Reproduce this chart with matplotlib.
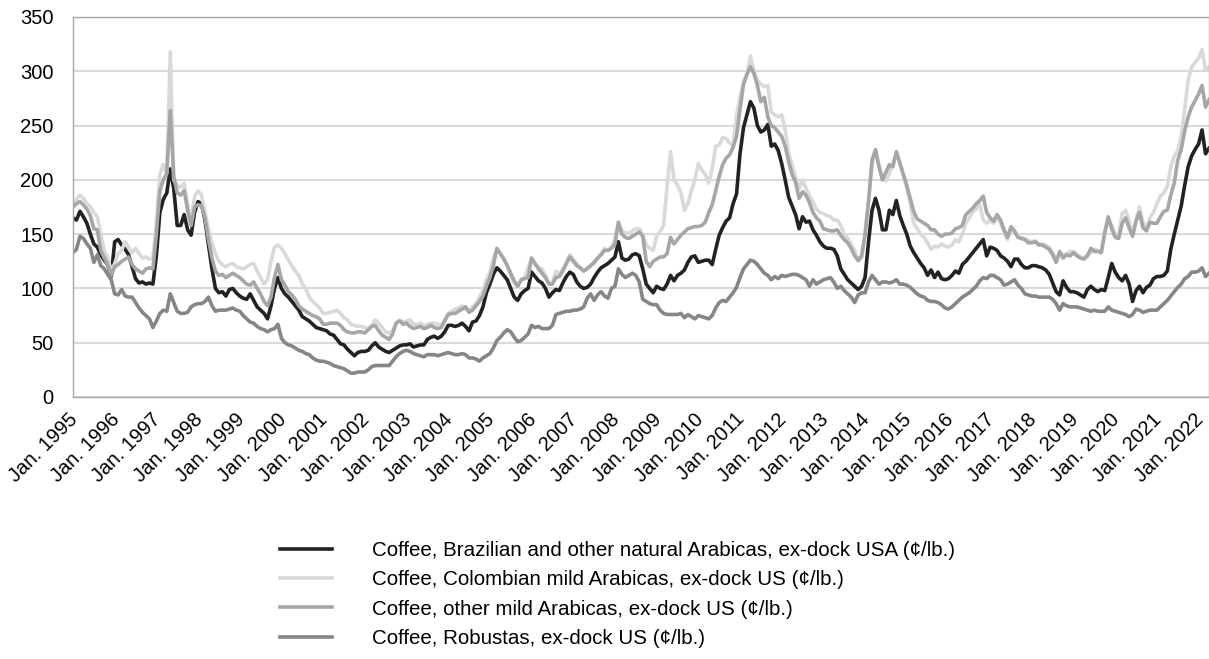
import matplotlib
matplotlib.use('Agg')
import matplotlib.pyplot as plt
import matplotlib.transforms as mtransforms
import numpy as np

plt.rcParams['font.family'] = ['Liberation Sans', 'DejaVu Sans']

years = list(range(1995, 2023))
tick_labels = [f"Jan. {y}" for y in years]

series_names = [
    "Coffee, Brazilian and other natural Arabicas, ex-dock USA (¢/lb.)",
    "Coffee, Colombian mild Arabicas, ex-dock US (¢/lb.)",
    "Coffee, other mild Arabicas, ex-dock US (¢/lb.)",
    "Coffee, Robustas, ex-dock US (¢/lb.)",
]

# Monthly values, Jan 1995 - Apr 2022
brazilian = [
    165, 163, 171, 166, 160, 150, 141, 138, 131, 126, 122, 111,
    143, 145, 140, 136, 131, 120, 109, 105, 106, 104, 105, 104,
    130, 170, 182, 188, 210, 192, 158, 158, 168, 154, 149, 170,
    180, 178, 163, 140, 118, 100, 96, 97, 93, 99, 100, 96,
    93, 91, 90, 95, 89, 83, 80, 77, 72, 84, 100, 110,
    100, 95, 92, 88, 84, 80, 74, 72, 70, 67, 64, 63,
    62, 61, 58, 57, 53, 49, 48, 44, 41, 38, 41, 42,
    42, 43, 47, 50, 46, 44, 42, 41, 43, 45, 47, 48,
    48, 49, 46, 47, 48, 48, 53, 55, 56, 54, 56, 60,
    66, 66, 65, 66, 68, 65, 61, 69, 70, 75, 83, 96,
    104, 113, 119, 116, 112, 108, 100, 92, 89, 95, 98, 100,
    115, 111, 107, 105, 100, 92, 96, 99, 98, 105, 111, 115,
    113, 106, 102, 100, 101, 104, 110, 115, 119, 121, 123, 126,
    129, 143, 128, 126, 127, 131, 132, 130, 118, 104, 100, 96,
    102, 100, 99, 104, 112, 107, 112, 114, 117, 124, 129, 130,
    124, 125, 126, 126, 122, 136, 149, 156, 162, 165, 178, 187,
    224, 248, 260, 272, 266, 250, 244, 246, 251, 231, 233, 227,
    215, 200, 184, 176, 168, 155, 166, 161, 162, 154, 149, 143,
    139, 137, 137, 136, 130, 118, 113, 108, 105, 102, 99, 102,
    110, 143, 172, 183, 172, 154, 154, 172, 168, 181, 167, 158,
    150, 139, 133, 128, 123, 119, 112, 117, 110, 115, 109, 108,
    109, 112, 116, 114, 122, 125, 129, 133, 137, 141, 145, 130,
    138, 137, 135, 130, 128, 125, 120, 127, 127, 122, 119, 119,
    121, 121, 120, 119, 117, 113, 105, 97, 94, 107, 101, 97,
    97, 96, 94, 92, 99, 102, 99, 97, 99, 98, 110, 123,
    115, 110, 107, 112, 104, 88, 98, 102, 96, 101, 103, 109,
    111, 111, 112, 116, 136, 150, 163, 176, 195, 212, 222, 228,
    233, 246, 224, 229,
]

colombian = [
    178, 182, 186, 183, 178, 175, 170, 166, 150, 135, 128, 116,
    123, 132, 135, 143, 138, 133, 137, 132, 128, 129, 127, 128,
    160, 205, 214, 206, 318, 200, 195, 193, 197, 178, 163, 185,
    190, 186, 170, 155, 142, 132, 125, 122, 120, 122, 123, 120,
    119, 118, 120, 122, 123, 116, 110, 104, 108, 125, 138, 140,
    137, 132, 126, 121, 116, 112, 104, 100, 92, 88, 85, 82,
    77, 77, 78, 79, 80, 77, 73, 71, 67, 66, 65, 65,
    64, 63, 66, 71, 68, 64, 60, 59, 61, 68, 71, 69,
    70, 71, 67, 67, 68, 66, 67, 68, 68, 67, 66, 71,
    77, 79, 81, 82, 84, 82, 78, 83, 86, 92, 98, 108,
    115, 128, 135, 132, 128, 121, 112, 105, 102, 108, 110, 119,
    128, 122, 120, 118, 112, 105, 105, 116, 113, 118, 123, 131,
    127, 123, 119, 116, 119, 121, 123, 127, 132, 137, 135, 138,
    145, 160, 153, 151, 151, 153, 155, 155, 150, 140, 137, 135,
    148, 152, 158, 194, 226, 200, 195, 188, 172, 178, 190, 200,
    215, 209, 205, 197, 210, 231, 232, 239, 238, 234, 231, 260,
    276, 290, 298, 314, 300, 292, 288, 286, 287, 262, 260, 258,
    260, 246, 225, 214, 203, 192, 200, 192, 185, 180, 173, 170,
    169, 167, 166, 163, 163, 158, 150, 146, 141, 135, 125, 128,
    150, 180, 215, 226, 214, 201, 199, 206, 215, 224, 215, 205,
    192, 178, 160, 155, 150, 147, 142, 136, 139, 138, 141, 139,
    138, 140, 145, 143, 150, 160, 165, 171, 173, 178, 163, 160,
    163, 160, 165, 160, 152, 145, 155, 152, 148, 147, 146, 144,
    143, 144, 141, 141, 140, 138, 133, 126, 133, 131, 132, 134,
    134, 131, 129, 128, 131, 133, 136, 135, 134, 150, 163, 158,
    150, 148, 169, 172, 162, 150, 163, 175, 161, 156, 165, 170,
    178, 185, 188, 194, 212, 222, 227, 240, 265, 292, 304, 308,
    312, 320, 301, 304,
]

other_milds = [
    175, 178, 180, 177, 173, 167, 155, 154, 135, 128, 122, 112,
    120, 122, 125, 127, 129, 122, 118, 116, 114, 118, 119, 118,
    150, 190, 200, 206, 264, 203, 188, 186, 190, 172, 158, 175,
    177, 176, 165, 145, 128, 116, 112, 113, 110, 112, 114, 112,
    110, 107, 104, 103, 106, 100, 95, 88, 84, 92, 110, 122,
    108, 103, 97, 94, 90, 84, 81, 79, 77, 75, 74, 72,
    67, 67, 68, 68, 68, 66, 62, 60, 59, 59, 60, 60,
    59, 62, 65, 66, 61, 57, 55, 53, 58, 68, 70, 67,
    68, 65, 63, 64, 65, 63, 64, 66, 64, 63, 64, 70,
    76, 77, 77, 79, 81, 83, 78, 80, 84, 88, 93, 102,
    110, 121, 137, 132, 127, 121, 114, 107, 102, 108, 109, 110,
    128, 123, 118, 114, 110, 104, 104, 110, 111, 116, 123, 129,
    125, 121, 119, 116, 118, 121, 124, 128, 131, 135, 135, 137,
    141, 161, 150, 147, 146, 148, 150, 152, 148, 125, 120, 125,
    127, 129, 129, 132, 147, 141, 145, 149, 152, 155, 156, 157,
    157, 158, 161, 170, 177, 190, 203, 214, 220, 223, 230, 240,
    265, 288, 297, 304, 298, 287, 272, 276, 258, 250, 248, 244,
    240, 231, 217, 205, 198, 183, 189, 186, 179, 170, 165, 162,
    155, 154, 153, 153, 154, 149, 145, 142, 137, 130, 126, 130,
    150, 180, 218, 228, 212, 200, 207, 214, 212, 226, 216, 205,
    195, 183, 171, 164, 162, 160, 158, 154, 154, 150, 148, 150,
    150, 151, 155, 156, 158, 168, 171, 174, 178, 181, 185, 170,
    165, 162, 168, 163, 154, 147, 157, 153, 147, 146, 145, 142,
    142, 143, 140, 140, 138, 136, 131, 124, 134, 128, 131, 130,
    133, 130, 128, 127, 130, 137, 134, 134, 133, 152, 166, 155,
    147, 146, 160, 165, 156, 148, 162, 170, 156, 153, 161, 160,
    160, 166, 171, 172, 186, 197, 218, 228, 245, 258, 267, 273,
    279, 287, 267, 274,
]

robustas = [
    133, 136, 148, 146, 141, 137, 124, 131, 121, 118, 113, 108,
    95, 94, 99, 93, 92, 92, 87, 82, 78, 75, 72, 64,
    70, 77, 80, 79, 95, 87, 79, 77, 77, 78, 83, 85,
    86, 86, 88, 92, 84, 79, 80, 80, 80, 81, 82, 80,
    79, 75, 72, 69, 68, 65, 63, 62, 60, 62, 63, 67,
    54, 50, 48, 47, 45, 43, 42, 40, 39, 36, 34, 33,
    33, 32, 31, 29, 28, 27, 26, 24, 22, 22, 23, 23,
    23, 25, 28, 29, 29, 29, 29, 29, 33, 37, 40, 42,
    43, 42, 40, 39, 38, 37, 39, 39, 39, 38, 39, 40,
    41, 40, 39, 39, 40, 39, 36, 36, 35, 33, 36, 38,
    40, 45, 52, 55, 59, 62, 60, 55, 51, 52, 55, 58,
    66, 64, 65, 63, 63, 63, 66, 76, 77, 78, 79, 79,
    80, 80, 81, 83, 91, 95, 89, 94, 97, 93, 91, 100,
    102, 118, 113, 110, 112, 114, 112, 106, 90, 88, 86, 85,
    85, 80, 77, 76, 76, 76, 76, 77, 73, 76, 74, 72,
    75, 74, 73, 72, 75, 82, 87, 89, 88, 92, 96, 101,
    110, 118, 122, 126, 125, 122, 118, 114, 112, 108, 111, 109,
    112, 111, 112, 113, 113, 112, 110, 108, 102, 108, 104, 106,
    108, 109, 110, 106, 100, 102, 98, 95, 92, 87, 94, 96,
    96, 106, 112, 108, 104, 106, 106, 105, 106, 108, 104, 104,
    103, 101, 98, 95, 93, 92, 89, 88, 88, 87, 85, 82,
    81, 83, 86, 89, 92, 94, 96, 99, 102, 107, 110, 109,
    112, 112, 110, 108, 103, 104, 106, 108, 103, 100, 95, 94,
    93, 93, 92, 92, 92, 92, 90, 86, 80, 86, 84, 83,
    83, 83, 82, 81, 80, 79, 80, 79, 79, 79, 83, 80,
    79, 78, 77, 76, 74, 76, 81, 80, 78, 79, 80, 80,
    80, 83, 86, 89, 93, 97, 101, 104, 109, 111, 115, 115,
    116, 119, 111, 114,
]

all_series = [brazilian, colombian, other_milds, robustas]
colors = ['#222222', '#d9d9d9', '#a6a6a6', '#868686']

W, H = 1209, 659
fig = plt.figure(figsize=(W / 100, H / 100), dpi=100)
ax = fig.add_axes([73 / W, 1 - 397 / H, (W - 73) / W, 380 / H])

n = len(brazilian)
x = np.arange(n)
for vals, name, col in zip(all_series, series_names, colors):
    ax.plot(x, vals, color=col, lw=2.6, label=name, solid_joinstyle='round')

ax.set_xlim(0, n - 1)
ax.set_ylim(0, 350)
ax.set_yticks(range(0, 351, 50))
ax.set_xticks(np.arange(0, n, 12))
ax.set_xticklabels(tick_labels, rotation=45, ha='right', rotation_mode='anchor')
ax.grid(axis='y', color='#d9d9d9', lw=1.5)
ax.set_axisbelow(True)
ax.tick_params(length=0, labelsize=14.5)
ax.tick_params(axis='y', pad=14)
ax.tick_params(axis='x', pad=9)
for s in ax.spines.values():
    s.set_color('#a6a6a6')
    s.set_linewidth(1.0)

shift = mtransforms.ScaledTranslation(-5 / 100, 0, fig.dpi_scale_trans)
for lab in ax.get_xticklabels():
    lab.set_transform(lab.get_transform() + shift)

ax.legend(loc='upper left', bbox_to_anchor=(280 / W, 1 - 541 / H),
          bbox_transform=fig.transFigure, frameon=False, fontsize=14.8,
          handlelength=2.55, handletextpad=1.95, labelspacing=0.5,
          borderpad=0, borderaxespad=0)

fig.savefig('out.png', dpi=100)
